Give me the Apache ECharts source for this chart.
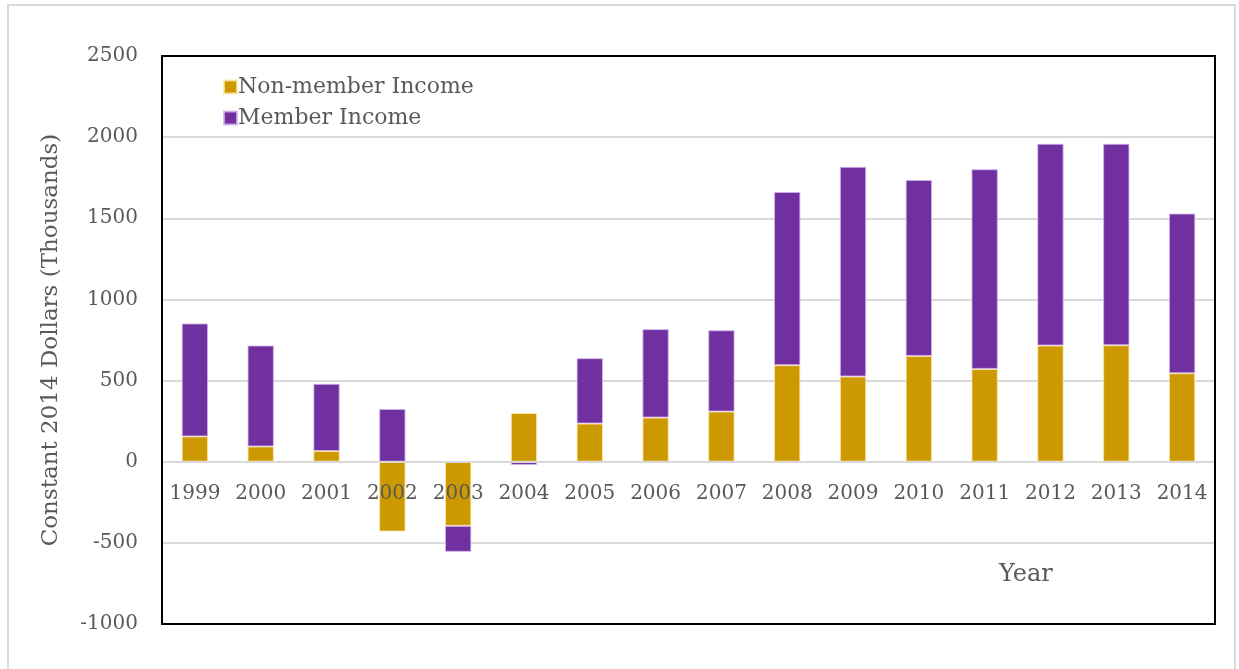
<!DOCTYPE html>
<html>
<head>
<meta charset="utf-8">
<script src="https://cdn.jsdelivr.net/npm/echarts@6/dist/echarts.min.js"></script>
<style>
html,body{margin:0;padding:0;background:#fff;}
#c{width:1239px;height:669px;}
</style>
</head>
<body>
<div id="c"></div>
<script>
const years = ['1999','2000','2001','2002','2003','2004','2005','2006','2007','2008','2009','2010','2011','2012','2013','2014'];
const nonMemberIncome = [156, 94, 66, -430, -395, 300, 235, 272, 309, 595, 525, 652, 572, 716, 718, 545];
const memberIncome = [696, 622, 414, 325, -160, -20, 403, 545, 501, 1067, 1292, 1084, 1230, 1243, 1241, 984];
const yTicks = {min: -1000, max: 2500, interval: 500};

const FONT = '"DejaVu Serif", serif';
const TXT = '#595959';
const G = {left: 162, right: 24, top: 56, bottom: 45};
const W = 1239, H = 669;
const plotH = H - G.top - G.bottom;
const zeroOffset = -plotH * (0 - yTicks.min) / (yTicks.max - yTicks.min);

const chart = echarts.init(document.getElementById('c'));
chart.setOption({
  animation: false,
  backgroundColor: '#fff',
  grid: {left: G.left, right: G.right, top: G.top, bottom: G.bottom, show: false},
  legend: {
    orient: 'vertical', left: 218, top: 71, itemWidth: 13, itemHeight: 13, itemGap: 9,
    icon: 'rect',
    textStyle: {fontFamily: FONT, fontSize: 22, color: TXT, padding: [0,0,0,-4]},
    data: ['Non-member Income', 'Member Income']
  },
  xAxis: {
    type: 'category', data: years, position: 'bottom', offset: zeroOffset, z: 10,
    axisLine: {onZero: false, lineStyle: {color: '#d9d9d9', width: 2}},
    axisTick: {show: false},
    axisLabel: {fontFamily: FONT, fontSize: 20, color: TXT, margin: 22, interval: 0}
  },
  yAxis: {
    type: 'value', min: yTicks.min, max: yTicks.max, interval: yTicks.interval,
    name: 'Constant 2014 Dollars (Thousands)', nameLocation: 'middle', nameGap: 99,
    nameTextStyle: {fontFamily: FONT, fontSize: 23, color: TXT},
    axisLine: {show: false}, axisTick: {show: false},
    axisLabel: {fontFamily: FONT, fontSize: 20, color: TXT, margin: 24, formatter: v => String(v)},
    splitLine: {lineStyle: {color: '#d9d9d9', width: 2}}
  },
  graphic: [
    {type: 'rect', shape: {x: 8, y: 5, width: 1227, height: 670}, style: {fill: 'none', stroke: '#d9d9d9', lineWidth: 2}, silent: true, z: -10},
    {type: 'rect', shape: {x: G.left, y: G.top, width: W - G.left - G.right, height: plotH}, style: {fill: 'none', stroke: '#000', lineWidth: 2}, silent: true, z: 100},
    {type: 'text', left: 999, top: 563, style: {text: 'Year', fontFamily: FONT, fontSize: 24, fill: TXT}}
  ],
  series: [
    {name: 'Non-member Income', type: 'bar', stack: 'a', data: nonMemberIncome, barWidth: '40%',
     itemStyle: {color: '#CC9900', borderColor: 'rgba(255,230,170,0.8)', borderWidth: 1}},
    {name: 'Member Income', type: 'bar', stack: 'a', data: memberIncome, barWidth: '40%',
     itemStyle: {color: '#7030A0', borderColor: 'rgba(210,180,235,0.8)', borderWidth: 1}}
  ]
});
</script>
</body>
</html>
